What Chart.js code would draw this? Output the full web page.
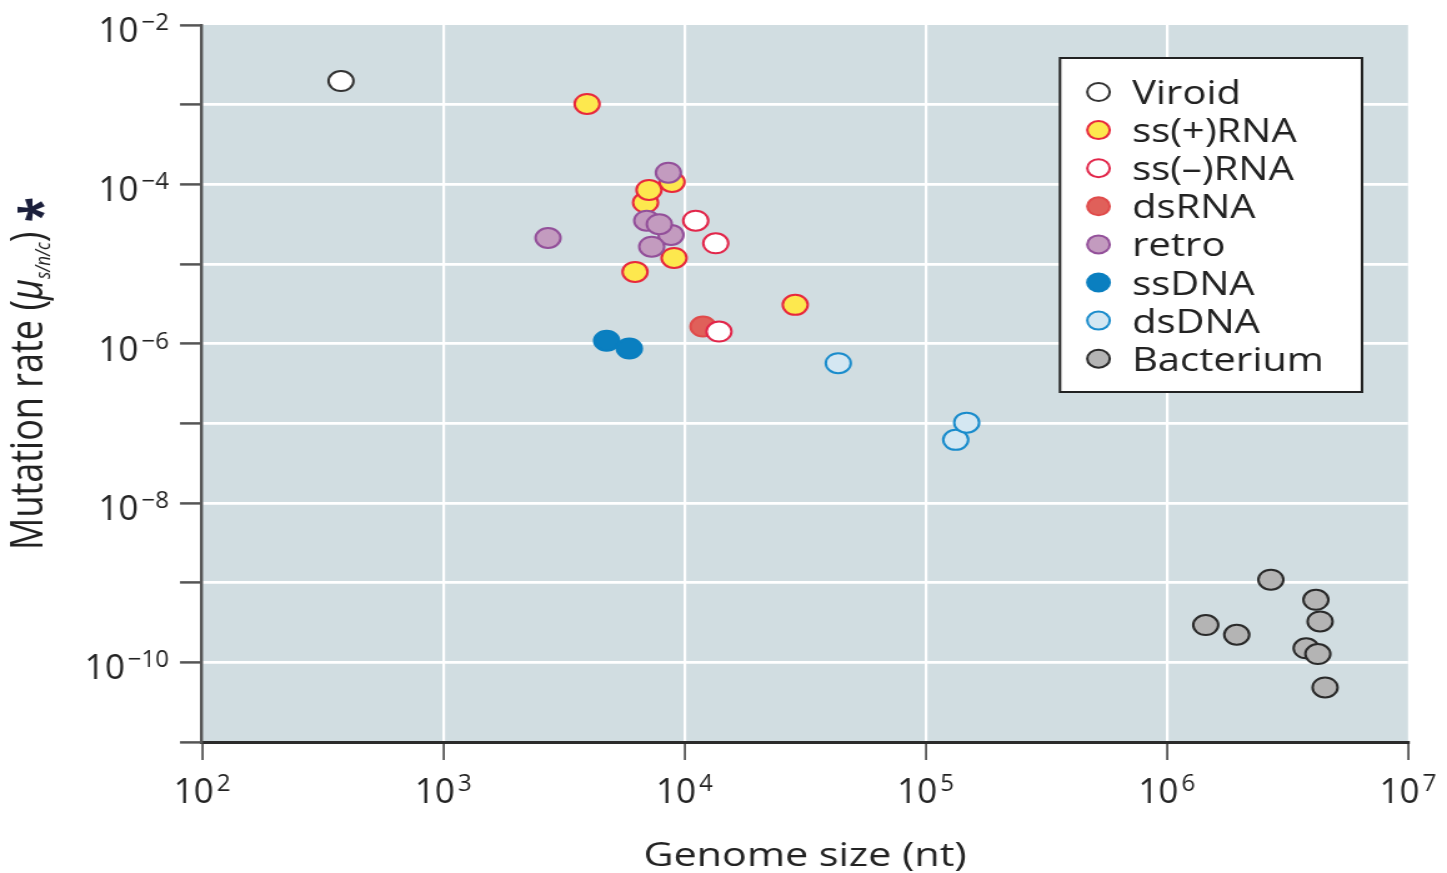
<!DOCTYPE html>
<html>
<head>
<meta charset="utf-8">
<script src="https://cdn.jsdelivr.net/npm/chart.js@4.4.1/dist/chart.umd.min.js"></script>
<style>
  html, body { margin: 0; padding: 0; background: #fff; overflow: hidden; }
  /* the original figure is a horizontally stretched image, so stretch the canvas too */
  #chart { display: block; transform: scaleX(1.24957); transform-origin: 0 0; }
</style>
</head>
<body>
<canvas id="chart" width="1158" height="873"></canvas>
<script>
// genome size (nt) vs mutation rate (s/n/c)
const viroidX = [377];
const viroidY = [1.98e-3];

const ssPlusX = [3950, 6900, 7130, 8890, 9060, 6240, 28800];
const ssPlusY = [1.02e-3, 5.9e-5, 8.5e-5, 1.07e-4, 1.19e-5, 7.96e-6, 3.07e-6];

const ssMinusX = [11140, 13490, 13910];
const ssMinusY = [3.5e-5, 1.82e-5, 1.42e-6];

const dsRnaX = [11940];
const dsRnaY = [1.64e-6];

const retroX = [2720, 8580, 8800, 6980, 7870, 7320];
const retroY = [2.12e-5, 1.40e-4, 2.32e-5, 3.5e-5, 3.16e-5, 1.65e-5];

const ssDnaX = [4760, 5910];
const ssDnaY = [1.09e-6, 8.7e-7];

const dsDnaX = [43450, 133300, 148000];
const dsDnaY = [5.69e-7, 6.2e-8, 1.02e-7];

const bactX = [1.45e6, 1.95e6, 2.70e6, 4.15e6, 4.32e6, 3.78e6, 4.23e6, 4.53e6];
const bactY = [2.94e-10, 2.22e-10, 1.09e-9, 6.1e-10, 3.26e-10, 1.50e-10, 1.27e-10, 4.84e-11];

// decade ticks and their exponent labels
const xTicks = [1e2, 1e3, 1e4, 1e5, 1e6, 1e7];
const xTickExp = ['2', '3', '4', '5', '6', '7'];
const yTicks = [1e-2, 1e-3, 1e-4, 1e-5, 1e-6, 1e-7, 1e-8, 1e-9, 1e-10, 1e-11];
const yTickExp = ['\u22122', '', '\u22124', '', '\u22126', '', '\u22128', '', '\u221210', ''];

const S = 1447 / 1158;          // horizontal stretch applied by css
const FONT = '"Open Sans", "DejaVu Sans", sans-serif';
const TEXT = '#222222';

function pts(xs, ys) {
  return xs.map((x, i) => ({ x: x, y: ys[i] }));
}

function series(label, xs, ys, fill, line, extra) {
  return Object.assign({
    label: label,
    data: pts(xs, ys),
    backgroundColor: fill,
    borderColor: line,
    pointRadius: 10,
    pointHoverRadius: 10,
    pointBorderWidth: 2
  }, extra || {});
}

// light blue-grey plot panel
const plotBg = {
  id: 'plotBg',
  beforeDraw(chart) {
    const { ctx, chartArea: a } = chart;
    ctx.save();
    ctx.fillStyle = '#d1dde1';
    ctx.fillRect(a.left, a.top, a.right - a.left, a.bottom - a.top);
    ctx.restore();
  }
};

// 10 with a raised exponent, drawn without the css stretch
function powerLabel(ctx, x, y, exp, align, big, small, rise) {
  ctx.save();
  ctx.translate(x, y);
  ctx.scale(1 / S, 1);
  ctx.fillStyle = TEXT;
  ctx.textAlign = 'left';
  ctx.textBaseline = 'alphabetic';
  ctx.font = '500 ' + big + 'px ' + FONT;
  const w10 = ctx.measureText('10').width;
  ctx.font = '500 ' + small + 'px ' + FONT;
  const we = ctx.measureText(exp).width;
  const gap = 3;
  const total = w10 + gap + we;
  const x0 = align === 'center' ? -total / 2 : -total;
  ctx.font = '500 ' + big + 'px ' + FONT;
  ctx.fillText('10', x0, 0);
  ctx.font = '500 ' + small + 'px ' + FONT;
  ctx.fillText(exp, x0 + w10 + gap, -rise);
  ctx.restore();
}

const tickLabels = {
  id: 'tickLabels',
  afterDraw(chart) {
    const { ctx, chartArea: a, scales } = chart;
    xTicks.forEach((v, i) => {
      powerLabel(ctx, scales.x.getPixelForValue(v), a.bottom + 61, xTickExp[i], 'center', 35, 24, 12);
    });
    yTicks.forEach((v, i) => {
      if (!yTickExp[i]) return;
      powerLabel(ctx, 169 / S, scales.y.getPixelForValue(v) + 17, yTickExp[i], 'right', 35, 24, 12);
    });
  }
};

// rotated y title with italic subscript and asterisk
const yTitle = {
  id: 'yTitle',
  afterDraw(chart) {
    const ctx = chart.ctx;
    ctx.save();
    ctx.translate(43 / S, 550);
    ctx.rotate(-Math.PI / 2);
    ctx.fillStyle = TEXT;
    ctx.textAlign = 'left';
    ctx.textBaseline = 'alphabetic';
    const parts = [
      { t: 'Mutation rate (', f: '36px', dy: 0 },
      { t: '\u03bc', f: 'italic 36px', dy: 0 },
      { t: 's/n/c', f: 'italic 17px', dy: 6 },
      { t: ') ', f: '36px', dy: 0 }
    ];
    let x = 0;
    parts.forEach(p => {
      ctx.font = p.f + ' ' + FONT;
      ctx.fillText(p.t, x, p.dy);
      x += ctx.measureText(p.t).width;
    });
    ctx.fillStyle = '#1b1f3b';
    ctx.font = 'bold 46px ' + FONT;
    ctx.fillText('*', x, 16);
    ctx.restore();
  }
};

// boxed legend inside the plot
const boxLegend = {
  id: 'boxLegend',
  afterDraw(chart) {
    const ctx = chart.ctx;
    const left = 1060 / S, top = 58, w = 302 / S, h = 334;
    ctx.save();
    ctx.fillStyle = '#ffffff';
    ctx.fillRect(left, top, w, h);
    ctx.strokeStyle = '#222222';
    ctx.lineWidth = 2;
    ctx.strokeRect(left, top, w, h);
    ctx.font = '500 32px ' + FONT;
    ctx.textAlign = 'left';
    ctx.textBaseline = 'alphabetic';
    chart.data.datasets.forEach((ds, i) => {
      const cy = 92 + i * 38.1;
      ctx.beginPath();
      ctx.arc(1098.5 / S, cy, 9, 0, Math.PI * 2);
      ctx.fillStyle = ds.backgroundColor;
      ctx.fill();
      ctx.lineWidth = 2;
      ctx.strokeStyle = ds.borderColor;
      ctx.stroke();
      ctx.fillStyle = TEXT;
      ctx.fillText(ds.label, 1132 / S, cy + 12);
    });
    ctx.restore();
  }
};

function edgeClear(edges, col) {
  return c => (c.tick && edges.includes(c.tick.value)) ? 'rgba(0,0,0,0)' : col;
}

function start() {
  new Chart(document.getElementById('chart'), {
    type: 'scatter',
    data: {
      datasets: [
        series('Viroid', viroidX, viroidY, '#ffffff', '#333333'),
        series('ss(+)RNA', ssPlusX, ssPlusY, '#fde84e', '#e8283c'),
        series('ss(\u2013)RNA', ssMinusX, ssMinusY, '#ffffff', '#e2264a'),
        series('dsRNA', dsRnaX, dsRnaY, '#e0605a', '#e04b4b'),
        series('retro', retroX, retroY, '#c39bbf', '#93509a', { order: -1 }),
        series('ssDNA', ssDnaX, ssDnaY, '#0a7fc0', '#0a7fc0'),
        series('dsDNA', dsDnaX, dsDnaY, '#d4e7f2', '#1a8ccc'),
        series('Bacterium', bactX, bactY, '#b4b4b4', '#2a2a2a')
      ]
    },
    options: {
      responsive: false,
      devicePixelRatio: 1,
      animation: false,
      layout: {
        autoPadding: false,
        padding: { left: 0, right: 1158 - 1408 / S, top: 25, bottom: 0 }
      },
      plugins: {
        legend: { display: false },
        tooltip: { enabled: false }
      },
      scales: {
        x: {
          type: 'logarithmic',
          min: 1e2,
          max: 1e7,
          afterBuildTicks: s => { s.ticks = xTicks.map(v => ({ value: v })); },
          afterFit: s => { s.height = 873 - 742; },
          ticks: { display: false },
          grid: {
            color: edgeClear([1e2, 1e7], '#ffffff'),
            lineWidth: 2.2,
            drawTicks: true,
            tickLength: 18,
            tickColor: '#444444',
            tickWidth: 1.6
          },
          border: { display: true, color: '#2b2b2b', width: 3 },
          title: {
            display: true,
            text: 'Genome size (nt)',
            color: TEXT,
            font: { family: FONT, size: 33, weight: '500', lineHeight: 1.0 },
            padding: { top: 0, bottom: 0 }
          }
        },
        y: {
          type: 'logarithmic',
          min: 1e-11,
          max: 1e-2,
          afterBuildTicks: s => { s.ticks = yTicks.map(v => ({ value: v })); },
          afterFit: s => { s.width = 202 / S; },
          ticks: { display: false },
          grid: {
            color: edgeClear([1e-11, 1e-2], '#ffffff'),
            lineWidth: 2.8,
            drawTicks: true,
            tickLength: 22 / S,
            tickColor: '#555555',
            tickWidth: 2.5
          },
          border: { display: true, color: '#555555', width: 2.4 },
          title: { display: false }
        }
      }
    },
    plugins: [plotBg, tickLabels, yTitle, boxLegend]
  });
}

Promise.all([
  document.fonts.load('32px "Open Sans"'),
  document.fonts.load('500 32px "Open Sans"'),
  document.fonts.load('italic 32px "Open Sans"')
]).then(start, start);
</script>
</body>
</html>
